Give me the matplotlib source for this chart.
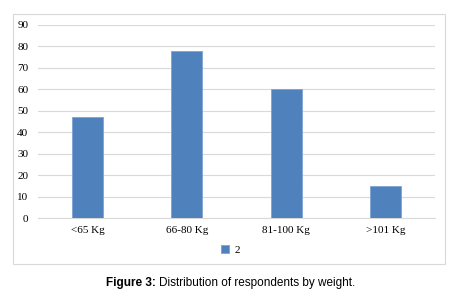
import matplotlib.pyplot as plt
from matplotlib.patches import Rectangle
import numpy as np

categories = ['<65 Kg', '66-80 Kg', '81-100 Kg', '>101 Kg']
values = [47, 78, 60, 15]
series_name = '2'

W, H = 461, 299
fig = plt.figure(figsize=(W / 100, H / 100), dpi=100)

# outer chart border
fig.patches.append(Rectangle((13 / W, 1 - 264 / H), 432 / W, 250 / H,
                             transform=fig.transFigure, fill=False,
                             edgecolor='#d9d9d9', linewidth=0.8))

ax = fig.add_axes([38 / W, 1 - 218 / H, 397 / W, 193 / H])
x = np.arange(len(categories))
ax.bar(x, values, width=0.31, color='#4f81bd', edgecolor='#7ea3d4',
       linewidth=0.6, label=series_name, zorder=3)

ax.set_xlim(-0.5, len(categories) - 0.5)
ax.set_ylim(0, 90)
ax.set_yticks(range(0, 91, 10))
ax.set_xticks(x)
ax.set_xticklabels(categories)
ax.grid(axis='y', color='#d9d9d9', linewidth=0.8, zorder=0)
for s in ['top', 'left', 'right']:
    ax.spines[s].set_visible(False)
ax.spines['bottom'].set_color('#d9d9d9')
ax.spines['bottom'].set_linewidth(0.8)
ax.tick_params(length=0, labelsize=8, colors='black')
ax.tick_params(axis='y', pad=7)
ax.tick_params(axis='x', pad=6)
for lbl in ax.get_xticklabels() + ax.get_yticklabels():
    lbl.set_fontfamily('Liberation Serif')

leg = ax.legend(loc='center', bbox_to_anchor=(0.485, -0.165), frameon=False,
                handlelength=0.7, handleheight=0.7, handletextpad=0.5,
                prop={'family': 'Liberation Serif', 'size': 8})

# caption: bold label + normal text, centred together
bold = 'Figure 3: '
rest = 'Distribution of respondents by weight.'
cy = 1 - 283 / H
t1 = fig.text(0, cy, bold, ha='left', va='center', fontsize=8.5,
              family='Liberation Sans', weight='bold')
t2 = fig.text(0, cy, rest, ha='left', va='center', fontsize=8.5,
              family='Liberation Sans')
r = fig.canvas.get_renderer()
w1 = t1.get_window_extent(r).width
w2 = t2.get_window_extent(r).width
x0 = (W - (w1 + w2)) / 2
t1.set_x(x0 / W)
t2.set_x((x0 + w1) / W)

fig.savefig('out.png', dpi=100)
